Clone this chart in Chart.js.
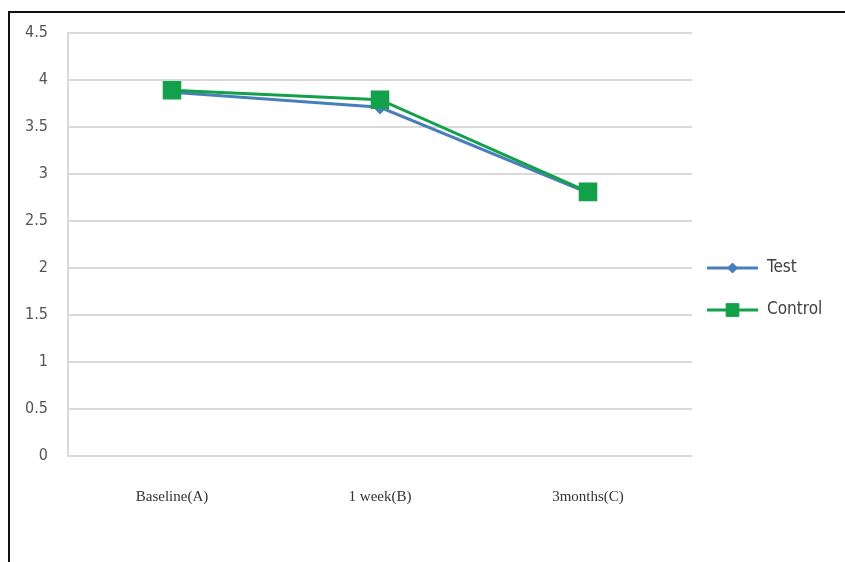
<!DOCTYPE html>
<html>
<head>
<meta charset="utf-8">
<script src="https://cdn.jsdelivr.net/npm/chart.js@4/dist/chart.umd.min.js"></script>
<style>
  html, body { margin: 0; padding: 0; background: #fff; }
  #wrap { position: relative; width: 845px; height: 562px; overflow: hidden; }
  #frame { position: absolute; left: 8px; top: 11px; width: 845px; height: 560px;
           border-top: 2px solid #111; border-left: 2px solid #111; box-sizing: border-box; }
  canvas { position: absolute; left: 0; top: 0; }
</style>
</head>
<body>
<div id="wrap">
  <div id="frame"></div>
  <canvas id="c" width="845" height="562"></canvas>
</div>
<script>
// Time points and mean scores for each group
const categories = ['Baseline(A)', '1 week(B)', '3months(C)'];
const testScores = [3.87, 3.71, 2.80];
const controlScores = [3.89, 3.79, 2.81];
const yTicks = [0, 0.5, 1, 1.5, 2, 2.5, 3, 3.5, 4, 4.5];

const sansFont = '"Liberation Sans Narrow", "DejaVu Sans Condensed", "Open Sans", sans-serif';
const serifFont = '"Liberation Serif", "DejaVu Serif", serif';

// Legend on the right: a short line with the series marker, then the name
const sideLegend = {
  id: 'sideLegend',
  afterDraw(chart) {
    const ctx = chart.ctx;
    const x0 = 707, x1 = 758, textX = 767;
    const rows = [268, 310];
    chart.data.datasets.forEach((ds, i) => {
      const y = rows[i];
      ctx.save();
      ctx.strokeStyle = ds.borderColor;
      ctx.lineWidth = ds.borderWidth;
      ctx.beginPath();
      ctx.moveTo(x0, y);
      ctx.lineTo(x1, y);
      ctx.stroke();
      ctx.fillStyle = ds.pointBackgroundColor;
      ctx.strokeStyle = ds.pointBorderColor;
      ctx.lineWidth = 1;
      Chart.helpers.drawPoint(ctx, {
        pointStyle: ds.pointStyle,
        radius: ds.legendRadius,
        borderWidth: 1
      }, (x0 + x1) / 2, y);
      ctx.fillStyle = '#404040';
      ctx.font = '17px ' + sansFont;
      ctx.textAlign = 'left';
      ctx.textBaseline = 'middle';
      ctx.fillText(ds.label, textX, y);
      ctx.restore();
    });
  }
};

new Chart(document.getElementById('c'), {
  type: 'line',
  data: {
    labels: categories,
    datasets: [
      {
        label: 'Test',
        data: testScores,
        order: 1,
        borderColor: '#4a7ebb',
        backgroundColor: '#4a7ebb',
        pointBackgroundColor: '#4a7ebb',
        pointBorderColor: '#4a7ebb',
        borderWidth: 3,
        pointStyle: 'rectRot',
        pointRadius: 5,
        legendRadius: 5,
        tension: 0
      },
      {
        label: 'Control',
        data: controlScores,
        order: 0,
        borderColor: '#13a04a',
        backgroundColor: '#13a04a',
        pointBackgroundColor: '#13a04a',
        pointBorderColor: '#13a04a',
        borderWidth: 3,
        pointStyle: 'rect',
        pointRadius: 11,
        legendRadius: 9,
        tension: 0
      }
    ]
  },
  options: {
    responsive: false,
    animation: false,
    events: [],
    layout: { padding: { left: 8, top: 33, right: 153, bottom: 0 } },
    plugins: { legend: { display: false }, tooltip: { enabled: false } },
    scales: {
      x: {
        offset: true,
        grid: { display: false, drawTicks: false },
        border: { display: false },
        ticks: {
          padding: 32,
          color: '#333',
          font: { family: serifFont, size: 15 }
        },
        afterFit(scale) { scale.height = 106; }
      },
      y: {
        min: 0,
        max: 4.5,
        afterBuildTicks(scale) { scale.ticks = yTicks.map(v => ({ value: v })); },
        grid: { color: '#d9d9d9', lineWidth: 2, drawTicks: false },
        border: { display: true, color: '#d9d9d9', width: 2 },
        ticks: {
          padding: 20,
          color: '#555',
          font: { family: sansFont, size: 16 },
          callback: v => String(v)
        },
        afterFit(scale) { scale.width = 60; }
      }
    }
  },
  plugins: [sideLegend]
});
</script>
</body>
</html>
